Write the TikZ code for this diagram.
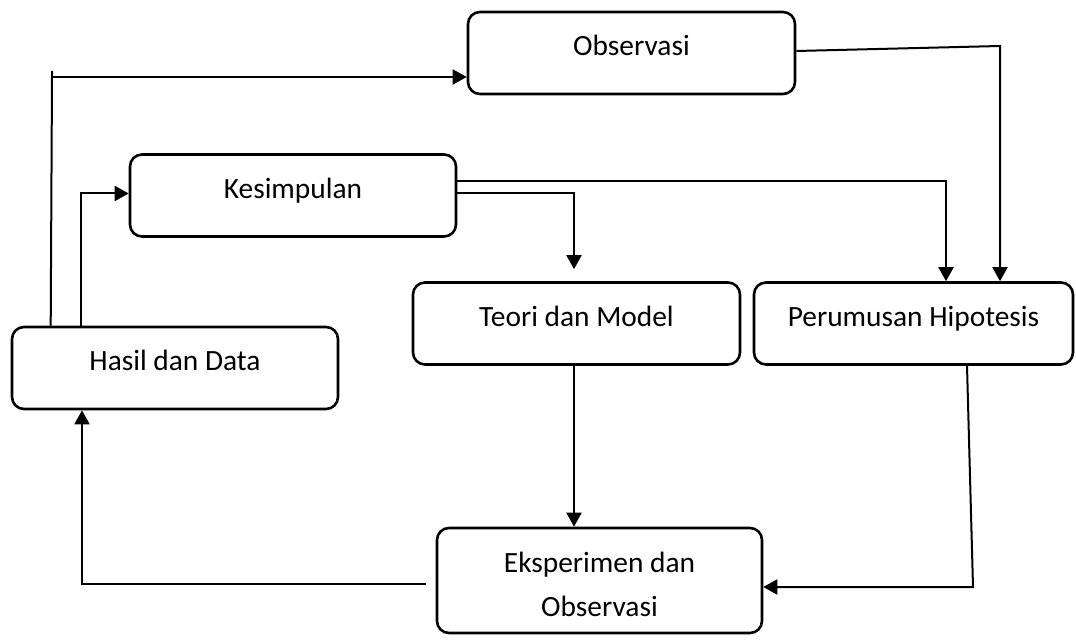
\documentclass[tikz,border=0pt]{standalone}
\usepackage{fontspec}
\setmainfont{Carlito}
\usetikzlibrary{arrows.meta}

\tikzset{
  stage/.style={draw, line width=1.3pt, rounded corners=6pt, minimum height=41pt,
    inner sep=0pt, font=\fontsize{14.7}{22}\selectfont, text height=11.5pt, text depth=8.5pt},
  link/.style={line width=1pt},
  flow/.style={link, -{Triangle[length=7pt,width=7.5pt]}}
}

\begin{document}
\begin{tikzpicture}[x=0.5pt,y=-0.5pt]
\useasboundingbox (0,0) rectangle (1076,641);

\node[stage, minimum width=163.5pt] (obs) at (631.5,53) {Observasi};
\node[stage, minimum width=163pt] (kes) at (293,195.5) {Kesimpulan};
\node[stage, minimum width=163.5pt] (teori) at (576.5,323.5) {Teori dan Model};
\node[stage, minimum width=159.5pt] (rumus) at (913.5,323.5) {Perumusan Hipotesis};
\node[stage, minimum width=163pt] (hasil) at (175,368) {Hasil dan Data};
\node[stage, minimum width=162.5pt, minimum height=52.5pt, align=center,
  text height=35.5pt, text depth=0pt] (eks) at (599.5,580.5) {Eksperimen dan\\Observasi};

\coordinate (tl) at (52,77);
\coordinate (ob) at (1000,46);
\coordinate (rb) at (973,587);

\draw[link] ([xshift=20pt]hasil.north west) -- (tl) -- ++(0,-6);
\draw[flow] (tl) -- (tl -| obs.west);
\draw[flow] ([xshift=35pt]hasil.north west) |- ([yshift=1pt]kes.west);
\draw[flow] ([yshift=7.25pt]kes.east) -| ([xshift=16.25pt]rumus.north);
\draw[flow] ([yshift=1pt]kes.east) -| ([xshift=-1.25pt,yshift=6pt]teori.north);
\draw[flow] ([yshift=1pt]obs.east) -- (ob) -- (ob |- rumus.north);
\draw[flow] ([xshift=-1.25pt]teori.south) -- ([xshift=-1.25pt]teori.south |- eks.north);
\draw[flow] ([xshift=26.75pt]rumus.south) -- (rb) -- (rb -| eks.east);
\draw[flow] ([xshift=-5pt,yshift=-1.75pt]eks.west) -| ([xshift=-46.5pt]hasil.south);

\end{tikzpicture}
\end{document}
